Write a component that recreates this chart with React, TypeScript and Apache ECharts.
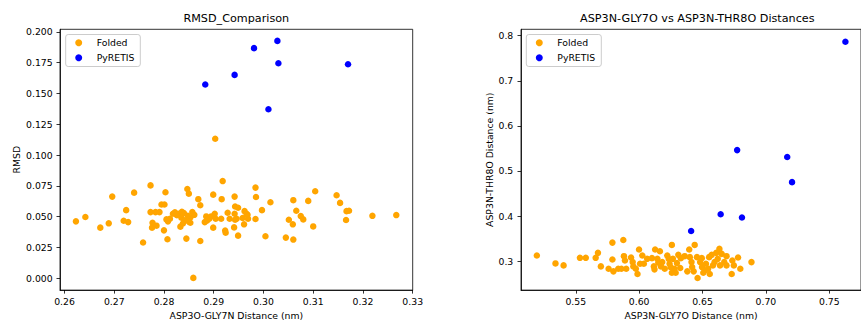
import React, { useEffect, useRef } from "react";
import * as echarts from "echarts";

// ---- Left panel: ASP3O-GLY7N distance vs RMSD ----
const leftFoldedX = [
  0.2623, 0.2642, 0.2672, 0.2689, 0.2696, 0.2719, 0.2724, 0.2728, 0.274, 0.2758,
  0.2773, 0.2773, 0.2777, 0.2776, 0.2783, 0.2785, 0.2791, 0.2795, 0.2801, 0.28,
  0.2803, 0.2805, 0.2807, 0.2808, 0.2812, 0.2818, 0.2829, 0.2833, 0.2835, 0.284,
  0.2842, 0.2845, 0.2847, 0.285, 0.2853, 0.2853, 0.2857, 0.2859, 0.2861, 0.2869,
  0.2873, 0.2873, 0.2882, 0.2885, 0.2891, 0.2899, 0.2899, 0.2902, 0.2903, 0.2904,
  0.2915, 0.2916, 0.2918, 0.2923, 0.2924, 0.2928, 0.2932, 0.2941, 0.2942, 0.2942,
  0.2943, 0.2943, 0.2949, 0.2949, 0.2961, 0.2962, 0.2966, 0.2969, 0.2984, 0.2984,
  0.2985, 0.2997, 0.3004, 0.3014, 0.3045, 0.3051, 0.3059, 0.306, 0.306, 0.3066,
  0.3075, 0.308, 0.309, 0.31, 0.3104, 0.3147, 0.3154, 0.3166, 0.3167, 0.3172,
  0.3219, 0.3267, 0.2822, 0.2826, 0.2836, 0.2848, 0.2838, 0.285, 0.2895, 0.2887,
  0.2946, 0.2958, 0.2968,
];
const leftFoldedY = [
  0.0462, 0.0497, 0.0411, 0.0446, 0.0663, 0.0467, 0.0553, 0.0456, 0.0695, 0.029,
  0.0754, 0.0537, 0.0451, 0.0411, 0.0537, 0.0427, 0.0537, 0.0599, 0.0599, 0.0389,
  0.0698, 0.0478, 0.0317, 0.0462, 0.0483, 0.0524, 0.0524, 0.0419, 0.0491, 0.0529,
  0.047, 0.0322, 0.0725, 0.0687, 0.0494, 0.0451, 0.0537, 0.0003, 0.0515, 0.0642,
  0.0303, 0.0593, 0.0456, 0.0502, 0.0483, 0.0679, 0.0411, 0.0524, 0.1133, 0.0483,
  0.0483, 0.0642, 0.0789, 0.0387, 0.037, 0.0532, 0.0483, 0.0413, 0.0663, 0.0524,
  0.0475, 0.0583, 0.0346, 0.0572, 0.0438, 0.0545, 0.0524, 0.0483, 0.0736, 0.0481,
  0.066, 0.0553, 0.0341, 0.0617, 0.033, 0.0475, 0.0438, 0.0634, 0.0314, 0.0548,
  0.0505, 0.0478, 0.0628, 0.0421, 0.0706, 0.0674, 0.0612, 0.0473, 0.0545, 0.0548,
  0.0507, 0.0513, 0.0535, 0.0512, 0.054, 0.0508, 0.0445, 0.046, 0.0502, 0.047,
  0.0483, 0.0489, 0.0515,
];
const leftPyretisX = [0.2883, 0.2942, 0.2981, 0.301, 0.3028, 0.303, 0.317];
const leftPyretisY = [0.1573, 0.1651, 0.1868, 0.1372, 0.1927, 0.1745, 0.1737];
const leftXTicks = [0.26, 0.27, 0.28, 0.29, 0.3, 0.31, 0.32, 0.33];
const leftYTicks = [0, 0.025, 0.05, 0.075, 0.1, 0.125, 0.15, 0.175, 0.2];

// ---- Right panel: ASP3N-GLY7O vs ASP3N-THR8O ----
const rightFoldedX = [
  0.5193, 0.534, 0.5404, 0.5533, 0.5579, 0.5657, 0.5675, 0.5698, 0.5759, 0.5789,
  0.5789, 0.5797, 0.5835, 0.586, 0.5875, 0.588, 0.5888, 0.5898, 0.5936, 0.5954,
  0.5974, 0.5987, 0.5999, 0.6007, 0.6025, 0.6037, 0.6063, 0.6101, 0.6116, 0.6121,
  0.6126, 0.6144, 0.6164, 0.6172, 0.6182, 0.6222, 0.6233, 0.624, 0.6248, 0.6258,
  0.6258, 0.6266, 0.6278, 0.6288, 0.6298, 0.6309, 0.6324, 0.6359, 0.638, 0.6395,
  0.64, 0.6413, 0.643, 0.6438, 0.6456, 0.6461, 0.6481, 0.6496, 0.6506, 0.6527,
  0.6544, 0.6552, 0.6557, 0.6595, 0.6608, 0.6633, 0.6638, 0.6651, 0.6671, 0.6689,
  0.6689, 0.673, 0.6735, 0.6747, 0.678, 0.6798, 0.6886, 0.5949, 0.6151, 0.6202,
  0.6329, 0.6418, 0.6494, 0.6519, 0.6582, 0.662, 0.6572,
];
const rightFoldedY = [
  0.3125, 0.2949, 0.2905, 0.3073, 0.3073, 0.3073, 0.3183, 0.2883, 0.2831, 0.3411,
  0.3037, 0.2773, 0.2831, 0.2831, 0.3469, 0.311, 0.3015, 0.2831, 0.3081, 0.2883,
  0.2831, 0.2714, 0.3257, 0.2941, 0.3125, 0.2941, 0.3051, 0.3066, 0.2883, 0.2817,
  0.3257, 0.3051, 0.322, 0.2883, 0.2978, 0.3125, 0.3051, 0.2941, 0.2868, 0.3359,
  0.2743, 0.3051, 0.2831, 0.2743, 0.2956, 0.3139, 0.2846, 0.311, 0.2773, 0.3257,
  0.3088, 0.2978, 0.2773, 0.3359, 0.3088, 0.2626, 0.2978, 0.2868, 0.2743, 0.2941,
  0.2831, 0.3088, 0.2714, 0.2978, 0.3183, 0.3271, 0.2905, 0.3161, 0.2978, 0.311,
  0.2905, 0.2714, 0.3015, 0.2905, 0.3081, 0.2831, 0.2978, 0.2978, 0.2963, 0.2831,
  0.3066, 0.2868, 0.3066, 0.2795, 0.2905, 0.3051, 0.3139,
];
const rightPyretisX = [0.641, 0.6643, 0.6773, 0.6811, 0.7168, 0.7206, 0.7627];
const rightPyretisY = [0.3667, 0.4041, 0.5463, 0.3968, 0.5309, 0.4752, 0.7868];
const rightXTicks = [0.55, 0.6, 0.65, 0.7, 0.75];
const rightYTicks = [0.3, 0.4, 0.5, 0.6, 0.7, 0.8];

const ORANGE = "#FFA500";
const BLUE = "#0000FF";
const FONT = "DejaVu Sans";
const zip = (xs: number[], ys: number[]) => xs.map((x, i) => [x, ys[i]]);

function makeAxis(
  min: number,
  max: number,
  ticks: number[],
  digits: number,
  name: string,
  gridIndex: number,
  nameGap: number,
  labelMargin: number
) {
  return {
    type: "value",
    gridIndex,
    min,
    max,
    name,
    nameLocation: "middle",
    nameGap,
    nameTextStyle: { fontFamily: FONT, fontSize: 9.3, color: "#000" },
    axisLine: { show: true, onZero: false, lineStyle: { color: "#000", width: 0.8 } },
    axisTick: {
      show: true,
      length: 3.5,
      inside: false,
      customValues: ticks,
      lineStyle: { color: "#000", width: 0.8 },
    },
    axisLabel: {
      show: true,
      margin: labelMargin,
      customValues: ticks,
      formatter: (v: number) => v.toFixed(digits),
      fontFamily: FONT,
      fontSize: 9.3,
      color: "#000",
      showMinLabel: true,
      showMaxLabel: true,
    },
    splitLine: { show: false },
  };
}

function makeLegend(iconLeft: number) {
  return {
    data: ["Folded", "PyRETIS"],
    orient: "vertical",
    left: iconLeft,
    top: 37.2,
    icon: "circle",
    itemWidth: 7,
    itemHeight: 7,
    itemGap: 4,
    padding: 0,
    borderWidth: 0,
    selectedMode: false,
    z: 10,
    itemStyle: { opacity: 1 },
    textStyle: {
      fontFamily: FONT,
      fontSize: 9.3,
      color: "#000",
      lineHeight: 11,
      padding: [0, 0, 0, 9.5],
    },
  };
}

function legendBox(x: number, w: number) {
  return {
    type: "rect",
    z: 5,
    shape: { x: x + 0.5, y: 34.5, width: w, height: 32, r: 2.5 },
    style: { fill: "rgba(255,255,255,0.8)", stroke: "#cccccc", lineWidth: 1 },
  };
}

export default function App() {
  const ref = useRef<HTMLDivElement>(null);
  useEffect(() => {
    if (!ref.current) return;
    const chart = echarts.init(ref.current, undefined, { renderer: "svg" });
    const sym = 6.5;
    const series = (name: string, idx: number, color: string, xs: number[], ys: number[]) => ({
      name,
      type: "scatter",
      xAxisIndex: idx,
      yAxisIndex: idx,
      symbol: "circle",
      symbolSize: sym,
      itemStyle: { color, opacity: 1 },
      data: zip(xs, ys),
    });
    chart.setOption({
      animation: false,
      backgroundColor: "#fff",
      title: [
        {
          text: "RMSD_Comparison",
          left: 236.3,
          top: 12.5,
          textAlign: "center",
          padding: 0,
          textStyle: { fontFamily: FONT, fontSize: 11.2, fontWeight: "normal", color: "#000" },
        },
        {
          text: "ASP3N-GLY7O vs ASP3N-THR8O Distances",
          left: 697.3,
          top: 12.5,
          textAlign: "center",
          padding: 0,
          textStyle: { fontFamily: FONT, fontSize: 11.2, fontWeight: "normal", color: "#000" },
        },
      ],
      graphic: [legendBox(65.2, 74.6), legendBox(525.8, 75)],
      legend: [makeLegend(75.2), makeLegend(535.8)],
      grid: [
        { left: 60, top: 29.3, right: 448.3, bottom: 34, show: true, borderColor: "#000", borderWidth: 0.8, backgroundColor: "transparent" },
        { left: 521, top: 29.3, right: -12.6, bottom: 34, show: true, borderColor: "#000", borderWidth: 0.8, backgroundColor: "transparent" },
      ],
      xAxis: [
        makeAxis(0.2591, 0.33, leftXTicks, 2, "ASP3O-GLY7N Distance (nm)", 0, 20, 7),
        makeAxis(0.5068, 0.775, rightXTicks, 2, "ASP3N-GLY7O Distance (nm)", 1, 20, 7),
      ],
      yAxis: [
        makeAxis(-0.0096, 0.2021, leftYTicks, 3, "RMSD", 0, 38.8, 7.3),
        makeAxis(0.2357, 0.8143, rightYTicks, 1, "ASP3N-THR8O Distance (nm)", 1, 27.2, 7.7),
      ],
      series: [
        series("Folded", 0, ORANGE, leftFoldedX, leftFoldedY),
        series("PyRETIS", 0, BLUE, leftPyretisX, leftPyretisY),
        series("Folded", 1, ORANGE, rightFoldedX, rightFoldedY),
        series("PyRETIS", 1, BLUE, rightPyretisX, rightPyretisY),
      ],
    });
    return () => chart.dispose();
  }, []);
  return (
    <div style={{ position: "fixed", left: 0, top: 0, width: 861, height: 325, overflow: "hidden", background: "#fff" }}>
      <div ref={ref} style={{ width: 861, height: 325 }} />
    </div>
  );
}
